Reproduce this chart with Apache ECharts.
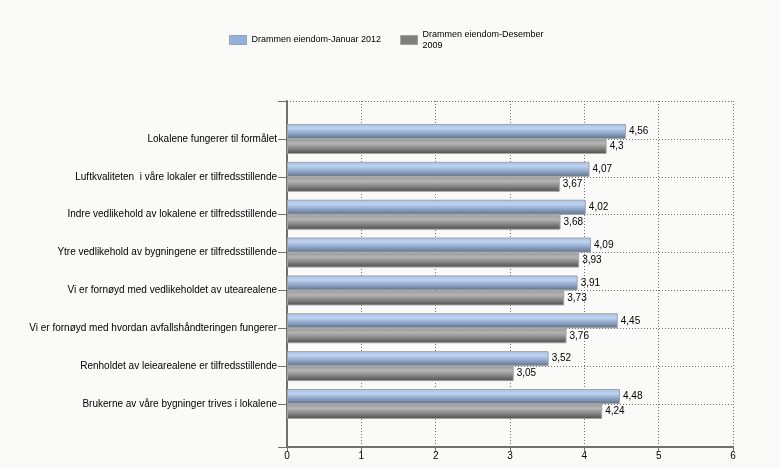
<!DOCTYPE html>
<html><head><meta charset="utf-8">
<script src="https://cdn.jsdelivr.net/npm/echarts@6/dist/echarts.min.js"></script>
<style>html,body{margin:0;padding:0;background:#fafaf8;}#c{width:780px;height:468px;}</style>
</head><body><div id="c"></div>
<script>
const categories = [
  "Lokalene fungerer til formålet",
  "Luftkvaliteten  i våre lokaler er tilfredsstillende",
  "Indre vedlikehold av lokalene er tilfredsstillende",
  "Ytre vedlikehold av bygningene er tilfredsstillende",
  "Vi er fornøyd med vedlikeholdet av utearealene",
  "Vi er fornøyd med hvordan avfallshåndteringen fungerer",
  "Renholdet av leiearealene er tilfredsstillende",
  "Brukerne av våre bygninger trives i lokalene"
];
const seriesNames = ["Drammen eiendom-Januar 2012", "Drammen eiendom-Desember 2009"];
const jan2012 = [4.56, 4.07, 4.02, 4.09, 3.91, 4.45, 3.52, 4.48];
const des2009 = [4.3, 3.67, 3.68, 3.93, 3.73, 3.76, 3.05, 4.24];
const xTicks = [0, 1, 2, 3, 4, 5, 6];

const font = "Liberation Sans, Arial, sans-serif";
const blueGrad = new echarts.graphic.LinearGradient(0, 0, 0, 1, [
  {offset: 0, color: '#a6c0ea'},
  {offset: 0.3, color: '#bed3f0'},
  {offset: 0.6, color: '#93a9cc'},
  {offset: 1, color: '#5c6e88'}
]);
const grayGrad = new echarts.graphic.LinearGradient(0, 0, 0, 1, [
  {offset: 0, color: '#9a9a9a'},
  {offset: 0.3, color: '#b4b4b4'},
  {offset: 0.6, color: '#8a8a8a'},
  {offset: 1, color: '#4a4a4a'}
]);
const fmt = p => String(p.value).replace('.', ',');

const chart = echarts.init(document.getElementById('c'), null, {renderer: 'canvas'});
chart.setOption({
  backgroundColor: '#fafaf8',
  animation: false,
  textStyle: {fontFamily: font},
  legend: {
    left: 224, top: 24, itemWidth: 17, itemHeight: 9, itemGap: 19,
    textStyle: {fontSize: 9, color: '#000', fontFamily: font, lineHeight: 11},
    formatter: n => n.replace(' 2009', '\n2009'),
    data: [
      {name: seriesNames[0], icon: 'rect', itemStyle: {color: '#94b0dc', borderColor: '#a0a0a0', borderWidth: 1}},
      {name: seriesNames[1], icon: 'rect', itemStyle: {color: '#7f7f7f', borderColor: '#a0a0a0', borderWidth: 1}}
    ]
  },
  grid: [
    {left: 287, right: 47, top: 101, bottom: 21},
    {left: 287, right: 47, top: 139, bottom: 64}
  ],
  xAxis: [
    {type: 'value', gridIndex: 0, min: xTicks[0], max: xTicks[xTicks.length - 1], interval: 1,
     axisLine: {show: true, lineStyle: {color: '#707070', width: 2}},
     axisTick: {show: true, length: 4, lineStyle: {color: '#707070'}},
     axisLabel: {fontSize: 10, color: '#000', margin: 4, fontFamily: font},
     splitLine: {show: true, lineStyle: {color: '#707070', type: [1, 2], width: 1}}},
    {type: 'value', gridIndex: 1, min: 0, max: 6, show: false}
  ],
  yAxis: [
    {type: 'value', gridIndex: 0, min: 0, max: 1, interval: 1,
     axisLine: {show: true, lineStyle: {color: '#707070', width: 2}},
     axisTick: {show: true, length: 9, lineStyle: {color: '#707070'}},
     axisLabel: {show: false},
     splitLine: {show: true, lineStyle: {color: '#707070', type: [1, 2], width: 1}}},
    {type: 'category', gridIndex: 1, data: categories, inverse: true, boundaryGap: false,
     axisLine: {show: false},
     axisTick: {show: true, length: 9, lineStyle: {color: '#707070'}},
     axisLabel: {fontSize: 10, color: '#000', margin: 10, fontFamily: font},
     splitLine: {show: true, lineStyle: {color: '#707070', type: [1, 2], width: 1}}}
  ],
  series: [
    {name: seriesNames[0], type: 'bar', xAxisIndex: 1, yAxisIndex: 1, data: jan2012,
     barWidth: 15, barGap: '0%', clip: false, z: 3,
     itemStyle: {color: blueGrad, borderColor: '#a4a4a4', borderWidth: 1},
     label: {show: true, position: 'right', distance: 3, fontSize: 10, color: '#000', formatter: fmt, fontFamily: font}},
    {name: seriesNames[1], type: 'bar', xAxisIndex: 1, yAxisIndex: 1, data: des2009,
     barWidth: 15, barGap: '0%', clip: false, z: 3,
     itemStyle: {color: grayGrad, borderColor: '#a4a4a4', borderWidth: 1},
     label: {show: true, position: 'right', distance: 3, fontSize: 10, color: '#000', formatter: fmt, fontFamily: font}}
  ]
});
</script></body></html>
